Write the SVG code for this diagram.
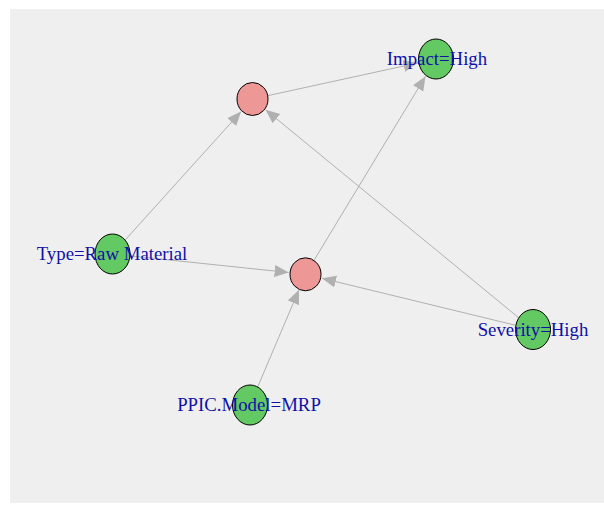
<svg xmlns="http://www.w3.org/2000/svg" width="604" height="506" viewBox="0 0 604 506">
<style>
.bg{fill:#efefef}
.e{stroke:#b0b0b0;stroke-width:1;fill:none;marker-end:url(#ah)}
.g{fill:#63c963;stroke:#000;stroke-width:1}
.r{fill:#ed9797;stroke:#000;stroke-width:1}
.t{font-family:"Liberation Serif","Times New Roman",serif;font-size:18.8px;fill:#1010a8;text-anchor:middle}
</style>
<defs>
<marker id="ah" markerUnits="userSpaceOnUse" markerWidth="15" markerHeight="13" refX="14" refY="6" orient="auto">
<path d="M0,0 L14,6 L0,12 z" fill="#b0b0b0"/>
</marker>
</defs>
<rect class="bg" x="10" y="9" width="594" height="494"/>
<g id="edges">
<line class="e" x1="112.5" y1="254" x2="241.1" y2="111.6"/>
<line class="e" x1="112.5" y1="254" x2="288.6" y2="272.5"/>
<line class="e" x1="250" y1="405" x2="298.9" y2="289.9"/>
<line class="e" x1="533" y1="329.5" x2="322" y2="278.3"/>
<line class="e" x1="533" y1="329.5" x2="265.6" y2="109.8"/>
<line class="e" x1="252.5" y1="99" x2="417.5" y2="63"/>
<line class="e" x1="305.5" y1="274.3" x2="425.4" y2="76.5"/>
</g>
<g id="n_r1"><ellipse class="r" cx="252.5" cy="99" rx="15.5" ry="16.5"/></g>
<g id="n_r2"><ellipse class="r" cx="305.5" cy="274.3" rx="15.5" ry="16.5"/></g>
<g id="n_impact"><ellipse class="g" cx="436" cy="59" rx="17.5" ry="20"/><text class="t" x="437" y="65">Impact=High</text></g>
<g id="n_type"><ellipse class="g" cx="112.5" cy="254" rx="17.5" ry="20"/><text class="t" x="112" y="260">Type=Raw Material</text></g>
<g id="n_ppic"><ellipse class="g" cx="250" cy="405" rx="17.5" ry="20"/><text class="t" x="249" y="411">PPIC.Model=MRP</text></g>
<g id="n_sev"><ellipse class="g" cx="533" cy="329.5" rx="17.5" ry="20"/><text class="t" x="533" y="336">Severity=High</text></g>
</svg>
